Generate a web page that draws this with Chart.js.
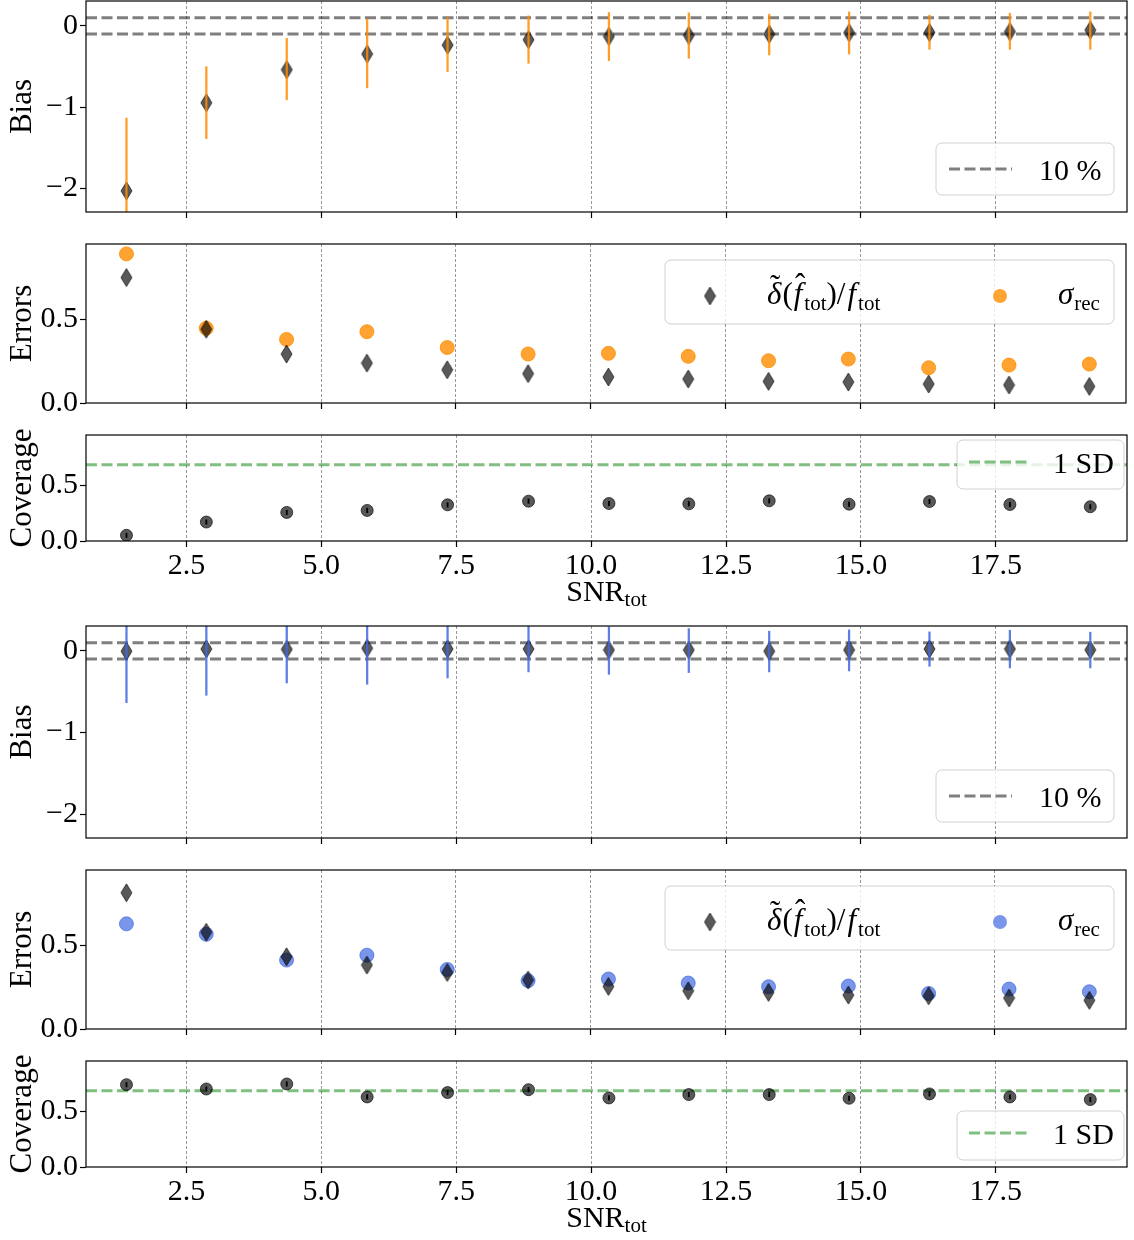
<!DOCTYPE html>
<html>
<head>
<meta charset="utf-8">
<script src="https://cdn.jsdelivr.net/npm/chart.js@4.4.0/dist/chart.umd.min.js"></script>
<style>
  html, body { margin: 0; padding: 0; background: #fff; overflow: hidden; }
  #wrap { position: relative; width: 1134px; height: 1240px; overflow: hidden; }
  .panel { position: absolute; left: 0; width: 1134px; }
</style>
</head>
<body>
<div id="wrap"></div>
<script>
// SNR bin centres and x ticks
const snr = [1.39, 2.87, 4.36, 5.85, 7.34, 8.84, 10.33, 11.81, 13.30, 14.78, 16.27, 17.76, 19.25];
const xTicks = [2.5, 5.0, 7.5, 10.0, 12.5, 15.0, 17.5];
const biasTicks = [-2, -1, 0];
const unitTicks = [0, 0.5];

// upper block (orange)
const biasA   = [-2.03, -0.947, -0.539, -0.347, -0.237, -0.171, -0.131, -0.118, -0.102, -0.086, -0.082, -0.073, -0.053];
const biasALo = [-2.93, -1.388, -0.910, -0.763, -0.563, -0.461, -0.429, -0.400, -0.359, -0.347, -0.290, -0.290, -0.290];
const biasAHi = [-1.135, -0.502, -0.155, 0.082, 0.102, 0.122, 0.163, 0.159, 0.143, 0.171, 0.131, 0.155, 0.171];
const scatA   = [0.748, 0.440, 0.292, 0.238, 0.198, 0.175, 0.155, 0.143, 0.129, 0.125, 0.113, 0.107, 0.099];
const sigmaA  = [0.889, 0.446, 0.379, 0.425, 0.331, 0.292, 0.296, 0.278, 0.252, 0.262, 0.210, 0.226, 0.232];
const coverA  = [0.051, 0.170, 0.256, 0.274, 0.324, 0.357, 0.336, 0.333, 0.360, 0.330, 0.354, 0.327, 0.307];
const coverAErr = [0.02, 0.02, 0.02, 0.02, 0.02, 0.02, 0.02, 0.02, 0.02, 0.02, 0.02, 0.02, 0.02];

// lower block (blue)
const biasB   = [-0.004, 0.024, 0.020, 0.033, 0.024, 0.024, 0.012, 0.012, -0.004, 0.012, 0.024, 0.024, 0.012];
const biasBLo = [-0.633, -0.543, -0.392, -0.408, -0.331, -0.257, -0.286, -0.265, -0.257, -0.245, -0.188, -0.208, -0.208];
const biasBHi = [0.62, 0.59, 0.43, 0.47, 0.38, 0.31, 0.294, 0.273, 0.241, 0.257, 0.233, 0.253, 0.229];
const scatB   = [0.812, 0.577, 0.431, 0.381, 0.337, 0.292, 0.254, 0.228, 0.218, 0.202, 0.198, 0.185, 0.171];
const sigmaB  = [0.627, 0.565, 0.411, 0.440, 0.355, 0.288, 0.298, 0.274, 0.252, 0.256, 0.212, 0.238, 0.222];
const coverB  = [0.738, 0.699, 0.744, 0.628, 0.667, 0.693, 0.619, 0.649, 0.649, 0.616, 0.655, 0.628, 0.604];
const coverBErr = [0.02, 0.02, 0.02, 0.02, 0.02, 0.02, 0.02, 0.02, 0.02, 0.02, 0.02, 0.02, 0.02];

// reference levels
const tolLevels = [0.1, -0.1];
const oneSD = 0.6827;

const X_MIN = 0.64, X_MAX = 19.93;
const SERIF = 'Liberation Serif';
const tickFont = { family: SERIF, size: 30 };
const titleFont = { family: SERIF, size: 31 };
const DARK = 'rgba(0,0,0,0.65)';
const ORANGE = 'rgba(255,140,0,0.8)';
const BLUE = 'rgba(65,105,225,0.7)';
const GREEN = 'rgba(0,128,0,0.5)';
const GREY = 'rgba(0,0,0,0.5)';

// thin diamond marker like matplotlib 'd'
function diamond(w, h, fill) {
  const c = document.createElement('canvas');
  c.width = w + 2; c.height = h + 2;
  const g = c.getContext('2d');
  g.beginPath();
  g.moveTo(c.width / 2, 1);
  g.lineTo(c.width - 1, c.height / 2);
  g.lineTo(c.width / 2, c.height - 1);
  g.lineTo(1, c.height / 2);
  g.closePath();
  g.fillStyle = fill; g.fill();
  g.strokeStyle = fill; g.lineWidth = 1; g.stroke();
  return c;
}
const diamondImg = diamond(11, 18, DARK);

const fmtBias = v => v === 0 ? '0' : (v < 0 ? '\u2212' + Math.abs(v) : String(v));
const fmt1 = v => v.toFixed(1);

function xAxis(showLabels, height) {
  return {
    type: 'linear', min: X_MIN, max: X_MAX, offset: false,
    afterBuildTicks: s => { s.ticks = xTicks.map(v => ({ value: v })); },
    afterFit: s => { s.height = height; s.paddingLeft = 0; s.paddingRight = 0; },
    grid: { color: 'rgba(0,0,0,0.45)', lineWidth: 0.9, offset: false, drawTicks: true, tickLength: 6,
            tickColor: '#000', tickWidth: 1.2, tickBorderDash: [] },
    border: { display: false, dash: [3, 2] },
    ticks: { display: showLabels, color: '#000', font: tickFont, padding: 1, maxRotation: 0, autoSkip: false,
             callback: fmt1 }
  };
}

function yAxis(min, max, ticks, title, fmt) {
  return {
    type: 'linear', min: min, max: max,
    afterBuildTicks: s => { s.ticks = ticks.map(v => ({ value: v })); },
    afterFit: s => { s.width = 86; s.paddingTop = 0; s.paddingBottom = 0; },
    grid: { drawOnChartArea: false, drawTicks: true, tickLength: 6, tickColor: '#000', tickWidth: 1.2 },
    border: { display: false },
    ticks: { color: '#000', font: tickFont, padding: 2, callback: fmt },
    title: { display: true, text: title, color: '#000', font: titleFont, padding: { top: 4, bottom: 0 } }
  };
}

const framePlugin = {
  id: 'frame',
  afterDraw(chart) {
    const { ctx, chartArea: a } = chart;
    ctx.save();
    ctx.strokeStyle = '#000';
    ctx.lineWidth = 1.2;
    ctx.strokeRect(a.left, a.top, a.right - a.left, a.bottom - a.top);
    ctx.restore();
  }
};

function box(ctx, x, y, w, h) {
  ctx.beginPath();
  ctx.roundRect(x, y, w, h, 6);
  ctx.fillStyle = 'rgba(255,255,255,0.8)';
  ctx.fill();
  ctx.strokeStyle = 'rgba(0,0,0,0.18)';
  ctx.lineWidth = 1;
  ctx.stroke();
}

// text with italics, subscripts and accents
function rich(ctx, x, y, parts) {
  let cx = x;
  ctx.textAlign = 'left';
  ctx.textBaseline = 'alphabetic';
  ctx.fillStyle = '#000';
  for (const p of parts) {
    ctx.font = (p.it ? 'italic ' : '') + p.size + 'px "' + SERIF + '"';
    ctx.fillText(p.t, cx, y + (p.dy || 0));
    const w = ctx.measureText(p.t).width;
    if (p.acc) {
      ctx.save();
      ctx.font = p.size + 'px "' + SERIF + '"';
      ctx.textAlign = 'center';
      ctx.fillText(p.acc, cx + w / 2 + (p.accDx || 0), y - p.accUp);
      ctx.restore();
    }
    cx += w + (p.gap || 0);
  }
  return cx - x;
}

function dashSample(ctx, x1, x2, y, color) {
  ctx.save();
  ctx.strokeStyle = color;
  ctx.lineWidth = 3;
  ctx.setLineDash([11, 4.5]);
  ctx.beginPath(); ctx.moveTo(x1, y); ctx.lineTo(x2, y); ctx.stroke();
  ctx.restore();
}

function tolLegend(bottomOff) {
  return { id: 'tolLegend', afterDraw(chart) {
    const { ctx, chartArea: a } = chart;
    const w = 178, h = 52, x = a.right - 13 - w, y = a.bottom - bottomOff - h;
    ctx.save();
    box(ctx, x, y, w, h);
    const cy = y + h / 2;
    dashSample(ctx, x + 13, x + 76, cy, GREY);
    rich(ctx, x + 103, cy + 11, [{ t: '10 %', size: 30 }]);
    ctx.restore();
  } };
}

function sdLegend(atTop, off) {
  return { id: 'sdLegend', afterDraw(chart) {
    const { ctx, chartArea: a } = chart;
    const w = 167, h = 49, x = a.right - 3 - w, y = atTop ? a.top + off : a.bottom - off - h;
    ctx.save();
    box(ctx, x, y, w, h);
    const cy = y + 22;
    dashSample(ctx, x + 12, x + 71, cy, GREEN);
    rich(ctx, x + 96, cy + 11, [{ t: '1 SD', size: 30 }]);
    ctx.restore();
  } };
}

function errLegend(dotColor) {
  return { id: 'errLegend', afterDraw(chart) {
    const { ctx, chartArea: a } = chart;
    const w = 449, h = 64, x = a.right - 12 - w, y = a.top + 16;
    ctx.save();
    box(ctx, x, y, w, h);
    const cy = y + 36;
    ctx.drawImage(diamondImg, x + 45 - diamondImg.width / 2, cy - diamondImg.height / 2);
    rich(ctx, x + 102, y + 44, [
      { t: '\u03B4', it: true, size: 31, acc: '\u02DC', accUp: 8, accDx: 1, gap: 1 },
      { t: '(', size: 31, gap: 1 },
      { t: 'f', it: true, size: 31, acc: '\u02C6', accUp: 9, accDx: 2, gap: 2 },
      { t: 'tot', size: 21, dy: 6 },
      { t: ')', size: 31 },
      { t: '/', size: 31, gap: 2 },
      { t: 'f', it: true, size: 31, gap: 2 },
      { t: 'tot', size: 21, dy: 6 }
    ]);
    ctx.beginPath();
    ctx.arc(x + 335, cy, 7, 0, Math.PI * 2);
    ctx.fillStyle = dotColor;
    ctx.fill();
    rich(ctx, x + 393, y + 44, [
      { t: '\u03C3', it: true, size: 31, gap: 1 },
      { t: 'rec', size: 21, dy: 6 }
    ]);
    ctx.restore();
  } };
}

const snrTitle = { id: 'snrTitle', afterDraw(chart) {
  const { ctx, chartArea: a } = chart;
  ctx.save();
  ctx.font = '30px "' + SERIF + '"';
  const w1 = ctx.measureText('SNR').width;
  ctx.font = '21px "' + SERIF + '"';
  const w2 = ctx.measureText('tot').width;
  const x0 = (a.left + a.right) / 2 - (w1 + w2) / 2;
  rich(ctx, x0, a.bottom + 60, [{ t: 'SNR', size: 30 }, { t: 'tot', size: 21, dy: 5 }]);
  ctx.restore();
} };

const wrap = document.getElementById('wrap');
function canvasAt(top, height) {
  const d = document.createElement('div');
  d.className = 'panel';
  d.style.top = top + 'px';
  d.style.height = height + 'px';
  const c = document.createElement('canvas');
  d.appendChild(c);
  wrap.appendChild(d);
  return c;
}

function pts(ys) { return snr.map((x, i) => ({ x: x, y: ys[i] })); }
function bars(lo, hi) { return snr.map((x, i) => ({ x: x, y: [lo[i], hi[i]] })); }
function hline(y) { return [{ x: X_MIN, y: y }, { x: X_MAX, y: y }]; }

function errBars(lo, hi, color, thick, order) {
  return { type: 'bar', data: bars(lo, hi), backgroundColor: color, borderWidth: 0,
           barThickness: thick, grouped: false, order: order };
}
function markers(ys, style, radius, color, order) {
  return { type: 'scatter', data: pts(ys), pointStyle: style, pointRadius: radius,
           backgroundColor: color, borderColor: color, borderWidth: 1, order: order };
}
function refLine(y, color, order) {
  return { type: 'line', data: hline(y), borderColor: color, borderWidth: 3, borderDash: [11, 4.5],
           pointRadius: 0, fill: false, order: order };
}

function panel(top, height, padTop, xH, showX, yCfg, datasets, plugins) {
  return new Chart(canvasAt(top, height), {
    type: 'scatter',
    data: { datasets: datasets },
    options: {
      responsive: true,
      maintainAspectRatio: false,
      animation: false,
      layout: { padding: { top: padTop, left: 0, right: 1, bottom: 0 } },
      scales: { x: xAxis(showX, xH), y: yCfg },
      plugins: { legend: { display: false }, tooltip: { enabled: false } }
    },
    plugins: [framePlugin].concat(plugins)
  });
}

// upper block
panel(-9, 231, 10, 10, false,
  yAxis(-2.29, 0.305, biasTicks, 'Bias', fmtBias),
  [errBars(biasALo, biasAHi, 'rgba(255,140,0,0.85)', 1.6, 0),
   markers(biasA, diamondImg, 6, DARK, 1),
   refLine(tolLevels[0], GREY, 2),
   refLine(tolLevels[1], GREY, 2)],
  [tolLegend(17)]);

panel(234, 179, 10, 10, false,
  yAxis(0, 0.948, unitTicks, 'Errors', fmt1),
  [markers(scatA, diamondImg, 6, DARK, 0),
   markers(sigmaA, 'circle', 7, ORANGE, 1)],
  [errLegend(ORANGE)]);

panel(425, 186, 10, 70, true,
  yAxis(0, 0.95, unitTicks, 'Coverage', fmt1),
  [errBars(coverA.map((v, i) => v - coverAErr[i]), coverA.map((v, i) => v + coverAErr[i]), '#000', 1.2, 0),
   markers(coverA, 'circle', 6, DARK, 1),
   refLine(oneSD, GREEN, 2)],
  [sdLegend(true, 5), snrTitle]);

// lower block
panel(616, 232, 10, 10, false,
  yAxis(-2.29, 0.305, biasTicks, 'Bias', fmtBias),
  [errBars(biasBLo, biasBHi, 'rgba(65,105,225,0.85)', 1.6, 0),
   markers(biasB, diamondImg, 6, DARK, 1),
   refLine(tolLevels[0], GREY, 2),
   refLine(tolLevels[1], GREY, 2)],
  [tolLegend(16)]);

panel(860, 179, 10, 10, false,
  yAxis(0, 0.948, unitTicks, 'Errors', fmt1),
  [markers(scatB, diamondImg, 6, DARK, 0),
   markers(sigmaB, 'circle', 7, BLUE, 1)],
  [errLegend(BLUE)]);

panel(1051, 186, 10, 70, true,
  yAxis(0, 0.95, unitTicks, 'Coverage', fmt1),
  [errBars(coverB.map((v, i) => v - coverBErr[i]), coverB.map((v, i) => v + coverBErr[i]), '#000', 1.2, 0),
   markers(coverB, 'circle', 6, DARK, 1),
   refLine(oneSD, GREEN, 2)],
  [sdLegend(false, 7), snrTitle]);
</script>
</body>
</html>
